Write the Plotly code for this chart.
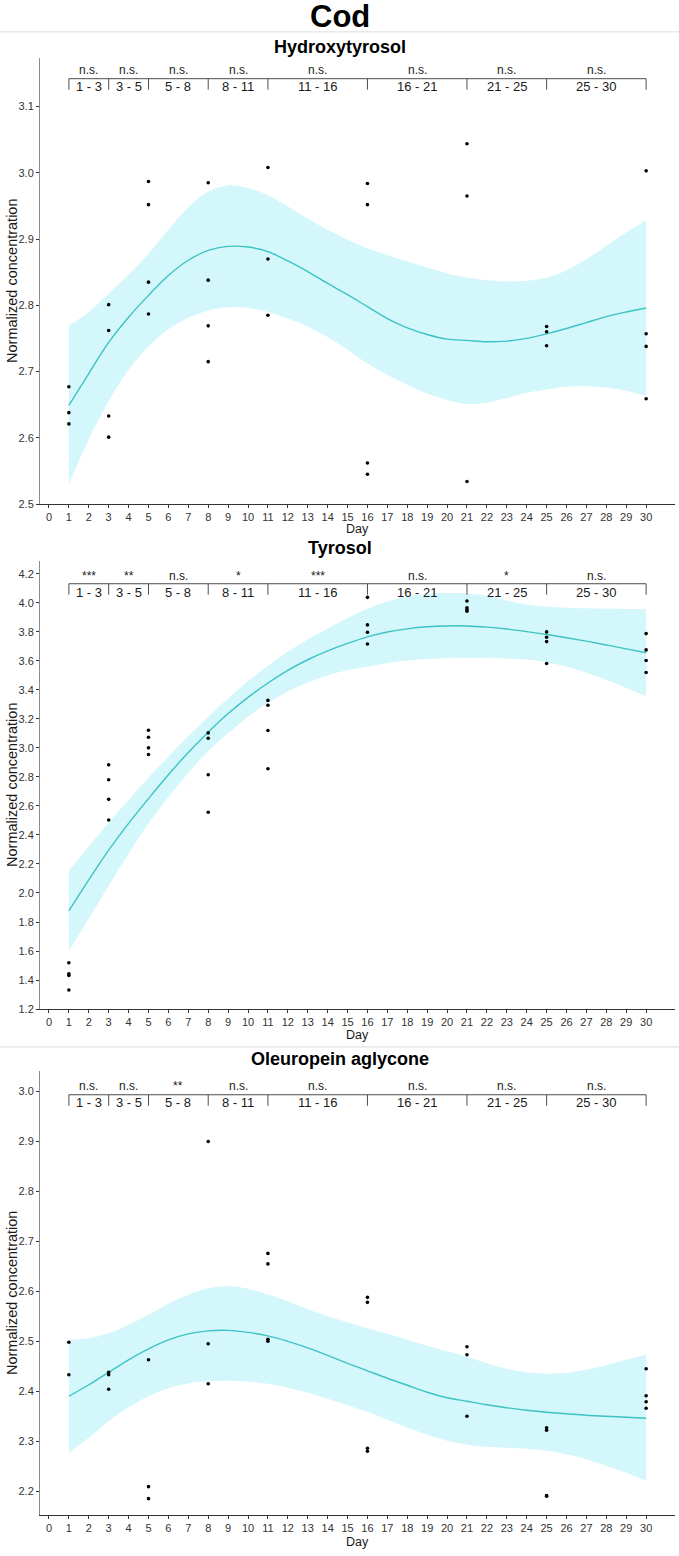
import plotly.graph_objects as go

# ---------------- data ----------------
fit_days = list(range(1, 31))

# Hydroxytyrosol
hty_days = [1, 1, 1, 3, 3, 3, 3, 5, 5, 5, 5, 8, 8, 8, 8, 11, 11, 11,
            16, 16, 16, 16, 21, 21, 21, 25, 25, 25, 30, 30, 30, 30]
hty_vals = [2.677, 2.638, 2.621, 2.801, 2.762, 2.633, 2.601,
            2.987, 2.952, 2.835, 2.787, 2.985, 2.838, 2.769, 2.715,
            3.008, 2.870, 2.785, 2.984, 2.952, 2.562, 2.545,
            3.044, 2.965, 2.534, 2.768, 2.760, 2.739,
            3.003, 2.757, 2.738, 2.659]
hty_fit = [2.649, 2.697, 2.744, 2.782, 2.815, 2.845, 2.868, 2.883, 2.889, 2.888,
           2.881, 2.867, 2.851, 2.833, 2.816, 2.798, 2.780, 2.766, 2.756, 2.749,
           2.747, 2.745, 2.746, 2.750, 2.757, 2.765, 2.774, 2.783, 2.790, 2.796]
hty_upper = [2.769, 2.790, 2.818, 2.846, 2.878, 2.914, 2.948, 2.972, 2.981, 2.977,
             2.966, 2.949, 2.931, 2.914, 2.899, 2.886, 2.876, 2.866, 2.857, 2.848,
             2.842, 2.838, 2.836, 2.837, 2.842, 2.853, 2.870, 2.890, 2.910, 2.928]
hty_lower = [2.530, 2.598, 2.655, 2.703, 2.738, 2.764, 2.781, 2.792, 2.797, 2.796,
             2.790, 2.780, 2.768, 2.752, 2.733, 2.712, 2.695, 2.680, 2.667, 2.657,
             2.651, 2.653, 2.660, 2.668, 2.673, 2.677, 2.678, 2.676, 2.671, 2.663]
hty_sig = ["n.s.", "n.s.", "n.s.", "n.s.", "n.s.", "n.s.", "n.s.", "n.s."]

# Tyrosol
ty_days = [1] * 4 + [3] * 4 + [5] * 4 + [8] * 4 + [11] * 4 + [16] * 4 + [21] * 4 + [25] * 4 + [30] * 4
ty_vals = [1.519, 1.444, 1.432, 1.332, 2.883, 2.780, 2.645, 2.503,
           3.121, 3.073, 3.000, 2.954, 3.103, 3.066, 2.815, 2.556,
           3.327, 3.293, 3.119, 2.856, 4.037, 3.847, 3.796, 3.716,
           4.012, 3.965, 3.952, 3.942, 3.799, 3.762, 3.732, 3.581,
           3.787, 3.675, 3.602, 3.519]
ty_fit = [1.876, 2.090, 2.295, 2.480, 2.650, 2.815, 2.968, 3.108, 3.236, 3.348,
          3.447, 3.534, 3.607, 3.668, 3.720, 3.765, 3.798, 3.820, 3.834, 3.840,
          3.840, 3.832, 3.819, 3.801, 3.781, 3.759, 3.735, 3.709, 3.682, 3.655]
ty_upper = [2.153, 2.320, 2.485, 2.640, 2.794, 2.940, 3.080, 3.215, 3.340, 3.458,
            3.565, 3.662, 3.746, 3.822, 3.895, 3.958, 4.008, 4.042, 4.060, 4.067,
            4.064, 4.048, 4.015, 3.988, 3.974, 3.966, 3.961, 3.958, 3.957, 3.957]
ty_lower = [1.604, 1.822, 2.050, 2.270, 2.480, 2.660, 2.828, 2.977, 3.100, 3.215,
            3.310, 3.389, 3.450, 3.500, 3.535, 3.561, 3.585, 3.602, 3.612, 3.618,
            3.619, 3.619, 3.616, 3.608, 3.590, 3.561, 3.518, 3.469, 3.413, 3.355]
ty_sig = ["***", "**", "n.s.", "*", "***", "n.s.", "*", "n.s."]

# Oleuropein aglycone
ole_days = [1, 1, 3, 3, 3, 5, 5, 5, 8, 8, 8, 11, 11, 11, 11,
            16, 16, 16, 16, 21, 21, 21, 25, 25, 25, 25, 30, 30, 30, 30]
ole_vals = [2.498, 2.433, 2.438, 2.433, 2.404, 2.463, 2.209, 2.185,
            2.900, 2.495, 2.415, 2.676, 2.655, 2.504, 2.500,
            2.588, 2.578, 2.286, 2.280, 2.489, 2.473, 2.350,
            2.327, 2.322, 2.191, 2.190, 2.445, 2.391, 2.379, 2.366]
ole_fit = [2.390, 2.413, 2.438, 2.463, 2.485, 2.503, 2.515, 2.521, 2.522, 2.518,
           2.511, 2.500, 2.487, 2.472, 2.456, 2.441, 2.426, 2.412, 2.398, 2.387,
           2.380, 2.373, 2.367, 2.362, 2.358, 2.355, 2.352, 2.350, 2.348, 2.346]
ole_upper = [2.503, 2.506, 2.516, 2.533, 2.553, 2.575, 2.593, 2.606, 2.610, 2.605,
             2.594, 2.580, 2.564, 2.550, 2.538, 2.526, 2.515, 2.503, 2.491, 2.480,
             2.469, 2.456, 2.445, 2.438, 2.435, 2.437, 2.443, 2.452, 2.463, 2.473]
ole_lower = [2.277, 2.307, 2.340, 2.368, 2.390, 2.406, 2.416, 2.420, 2.421, 2.419,
             2.415, 2.407, 2.397, 2.385, 2.372, 2.359, 2.343, 2.327, 2.313, 2.301,
             2.293, 2.289, 2.287, 2.285, 2.281, 2.274, 2.264, 2.251, 2.237, 2.221]
ole_sig = ["n.s.", "n.s.", "**", "n.s.", "n.s.", "n.s.", "n.s.", "n.s."]

bracket_bounds = [1, 3, 5, 8, 11, 16, 21, 25, 30]
x_ticks = list(range(0, 31))

# ---------------- styling / layout ----------------
W, H = 679, 1556
FONT = "Liberation Sans, Arial, Helvetica, sans-serif"
LINE_COL = "#3CC3C3"
FILL_COL = "#D4F7FB"
TXT = "#1a1a1a"

def py(px):
    return 1 - px / H

panels = [
    dict(name="Hydroxytyrosol", days=hty_days, vals=hty_vals, fit=hty_fit, up=hty_upper, lo=hty_lower,
         sig=hty_sig, top=58, bot=506, yr=[2.5, 2.5 + 448 / 665], yt=[2.5, 2.6, 2.7, 2.8, 2.9, 3.0, 3.1],
         ytl=["2.5", "2.6", "2.7", "2.8", "2.9", "3.0", "3.1"],
         title_y=47, br=(79, 90, 87, 70), day_y=531),
    dict(name="Tyrosol", days=ty_days, vals=ty_vals, fit=ty_fit, up=ty_upper, lo=ty_lower,
         sig=ty_sig, top=563, bot=1013, yr=[1.2, 1.2 + 450 / 145.7],
         yt=[1.2, 1.4, 1.6, 1.8, 2.0, 2.2, 2.4, 2.6, 2.8, 3.0, 3.2, 3.4, 3.6, 3.8, 4.0, 4.2],
         ytl=["1.2", "1.4", "1.6", "1.8", "2.0", "2.2", "2.4", "2.6", "2.8", "3.0", "3.2", "3.4",
              "3.6", "3.8", "4.0", "4.2"],
         title_y=550, br=(586, 597, 595, 578), day_y=1039),
    dict(name="Oleuropein aglycone", days=ole_days, vals=ole_vals, fit=ole_fit, up=ole_upper, lo=ole_lower,
         sig=ole_sig, top=1075, bot=1521, yr=[2.152, 2.144 + 450 / 501.4],
         yt=[2.2, 2.3, 2.4, 2.5, 2.6, 2.7, 2.8, 2.9, 3.0],
         ytl=["2.2", "2.3", "2.4", "2.5", "2.6", "2.7", "2.8", "2.9", "3.0"],
         title_y=1063, br=(1099, 1110, 1107, 1090), day_y=None),
]

fig = go.Figure()
shapes = []
annotations = []
layout = dict(width=W, height=H, margin=dict(l=0, r=0, t=0, b=0),
              paper_bgcolor="white", plot_bgcolor="white", showlegend=False,
              font=dict(family=FONT, color=TXT))

for i, p in enumerate(panels):
    k = "" if i == 0 else str(i + 1)
    xa, ya = "x" + k, "y" + k
    # ribbon
    fig.add_trace(go.Scatter(x=fit_days, y=p["lo"], mode="lines",
                             line=dict(width=0, color=FILL_COL, shape="spline"),
                             xaxis=xa, yaxis=ya, hoverinfo="skip"))
    fig.add_trace(go.Scatter(x=fit_days, y=p["up"], mode="lines",
                             line=dict(width=0, color=FILL_COL, shape="spline"),
                             fill="tonexty", fillcolor=FILL_COL, xaxis=xa, yaxis=ya, hoverinfo="skip"))
    # fit line
    fig.add_trace(go.Scatter(x=fit_days, y=p["fit"], mode="lines",
                             line=dict(width=1.4, color=LINE_COL, shape="spline"),
                             xaxis=xa, yaxis=ya))
    # points
    fig.add_trace(go.Scatter(x=p["days"], y=p["vals"], mode="markers",
                             marker=dict(size=3.6, color="black"), xaxis=xa, yaxis=ya))

    layout["xaxis" + k] = dict(domain=[40 / W, 675 / W], range=[-0.45, 31.45], anchor=ya,
                               tickmode="array", tickvals=x_ticks, ticktext=[str(t) for t in x_ticks],
                               showline=True, linecolor="#333333", linewidth=1, ticks="outside",
                               ticklen=3, tickcolor="#333333", tickfont=dict(size=11, color="#333333"),
                               showgrid=False, zeroline=False, fixedrange=True)
    layout["yaxis" + k] = dict(domain=[py(p["bot"]), py(p["top"])], range=p["yr"], anchor=xa,
                               tickmode="array", tickvals=p["yt"], ticktext=p["ytl"],
                               showline=True, linecolor="#8c8c8c", linewidth=1, ticks="outside",
                               ticklen=3, tickcolor="#333333", tickfont=dict(size=11, color="#333333"),
                               showgrid=False, zeroline=False, fixedrange=True)

    # panel title
    annotations.append(dict(text="<b>%s</b>" % p["name"], x=0.5, y=py(p["title_y"]), xref="paper", yref="paper",
                            showarrow=False, font=dict(size=18, color="black"), xanchor="center", yanchor="middle"))
    # y title
    annotations.append(dict(text="Normalized concentration", x=12 / W, y=py((p["top"] + p["bot"]) / 2),
                            xref="paper", yref="paper", showarrow=False, textangle=-90,
                            font=dict(size=14.5, color=TXT), xanchor="center", yanchor="middle"))
    # x title
    if p["day_y"] is None:
        annotations.append(dict(text="Day", x=(40 + 675) / 2 / W, y=0, xref="paper", yref="paper",
                                showarrow=False, font=dict(size=12.5, color=TXT), xanchor="center",
                                yanchor="bottom", borderpad=0))
    else:
        annotations.append(dict(text="Day", x=(40 + 675) / 2 / W, y=py(p["day_y"]), xref="paper", yref="paper",
                                showarrow=False, font=dict(size=12.5, color=TXT), xanchor="center",
                                yanchor="middle"))

    # brackets (pixel rows converted into data values of this panel)
    y0, y1 = p["yr"]
    def to_val(px, p=p, y0=y0, y1=y1):
        return y0 + (p["bot"] - px) / (p["bot"] - p["top"]) * (y1 - y0)
    yl, yb, ylab, ysig = [to_val(v) for v in p["br"]]
    shapes.append(dict(type="line", xref=xa, yref=ya, x0=bracket_bounds[0], x1=bracket_bounds[-1],
                       y0=yl, y1=yl, line=dict(color="#4d4d4d", width=1)))
    for b in bracket_bounds:
        shapes.append(dict(type="line", xref=xa, yref=ya, x0=b, x1=b, y0=yl, y1=yb,
                           line=dict(color="#4d4d4d", width=1)))
    for j in range(len(bracket_bounds) - 1):
        a, b = bracket_bounds[j], bracket_bounds[j + 1]
        annotations.append(dict(text="%d - %d" % (a, b), x=(a + b) / 2, y=ylab, xref=xa, yref=ya,
                                showarrow=False, font=dict(size=13, color=TXT), yanchor="middle"))
        annotations.append(dict(text=p["sig"][j], x=(a + b) / 2, y=ysig, xref=xa, yref=ya,
                                showarrow=False, font=dict(size=12, color=TXT), yanchor="middle"))

# main title and separators
annotations.append(dict(text="<b>Cod</b>", x=0.5, y=py(17), xref="paper", yref="paper", showarrow=False,
                        font=dict(size=31, color="black"), xanchor="center", yanchor="middle"))
for sy in (32, 1051):
    shapes.append(dict(type="line", xref="paper", yref="paper", x0=0, x1=1, y0=py(sy), y1=py(sy),
                       line=dict(color="#dcdcdc", width=1)))

layout["shapes"] = shapes
layout["annotations"] = annotations
fig.update_layout(**layout)
fig.write_html("out.html", config={"displayModeBar": False},
               post_script="document.body.style.margin='0';document.body.style.padding='0';")
